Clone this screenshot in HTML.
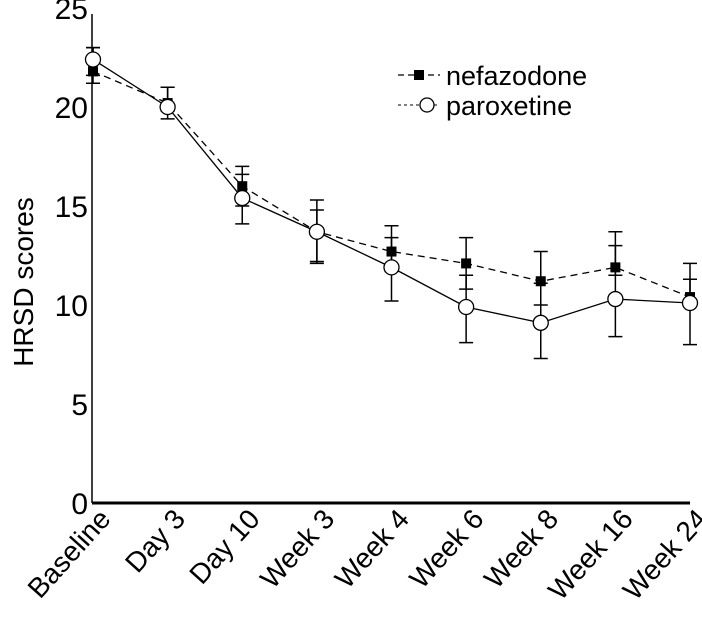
<!DOCTYPE html>
<html><head><meta charset="utf-8"><style>
html,body{margin:0;padding:0;background:#fff;}
svg{display:block;font-family:"Liberation Sans",Arial,sans-serif;}
</style></head><body>
<svg id="chart" width="702" height="617" viewBox="0 0 702 617"></svg>
<script>
const categories=["Baseline","Day 3","Day 10","Week 3","Week 4","Week 6","Week 8","Week 16","Week 24"];
const yTicks=[0,5,10,15,20,25];
const nefValues=[21.8,20.2,16.0,13.7,12.7,12.1,11.2,11.9,10.4];
const nefHi=[23.0,21.0,17.0,14.8,14.0,13.4,12.7,13.7,12.1];
const nefLo=[21.2,19.8,15.0,12.1,11.7,10.8,10.0,11.5,10.0];
const parValues=[22.4,20.0,15.4,13.7,11.9,9.9,9.1,10.3,10.1];
const parHi=[23.0,21.0,16.6,15.3,13.4,11.5,11.1,13.0,11.3];
const parLo=[21.6,19.4,14.1,12.2,10.2,8.1,7.3,8.4,8.0];

const svg=document.getElementById('chart');
const NS='http://www.w3.org/2000/svg';
const x0=93,x1=690,y0=503,y25=8;
function xs(i){return x0+(x1-x0)*i/(categories.length-1);}
function ys(v){return y0-(y0-y25)*v/25;}
function mk(t,a,p){const e=document.createElementNS(NS,t);for(const k in a)e.setAttribute(k,a[k]);(p||svg).appendChild(e);return e;}

let e;
e=mk('line',{x1:92,y1:14,x2:92,y2:503,stroke:'#000','stroke-width':1.5});


e=mk('line',{x1:92,y1:503,x2:690,y2:503,stroke:'#000','stroke-width':3});



yTicks.forEach(v=>{
  const t=mk('text',{x:88,y:ys(v)+11,'text-anchor':'end','font-size':30,fill:'#000'});
  t.textContent=v;
  
  
});
e=mk('text',{x:0,y:0,'text-anchor':'middle','font-size':28,transform:'translate(33,282) rotate(-90)'});
e.textContent='HRSD scores';



categories.forEach((c,i)=>{
  const t=mk('text',{x:0,y:0,'text-anchor':'end','font-size':28,transform:`translate(${xs(i)+19},${520}) rotate(-48)`});
  t.textContent=c;
  
  
});

function series(vals,hi,lo,dash,name,filled){
  const g=mk('g',{});
  
  
  vals.forEach((v,i)=>{
    const x=xs(i);
    const b=mk('path',{d:`M${x},${ys(hi[i])}V${ys(lo[i])}M${x-7},${ys(hi[i])}H${x+7}M${x-7},${ys(lo[i])}H${x+7}`,stroke:'#000','stroke-width':1.5,fill:'none'},g);
    
    
  });
  const l=mk('polyline',{points:vals.map((v,i)=>xs(i)+','+ys(v)).join(' '),fill:'none',stroke:'#000','stroke-width':1.3,'stroke-dasharray':dash},g);
  
  
  vals.forEach((v,i)=>{
    let m;
    if(filled) m=mk('rect',{x:xs(i)-5,y:ys(v)-5,width:10,height:10,fill:'#000'},g);
    else m=mk('circle',{cx:xs(i),cy:ys(v),r:7.5,fill:'#fff',stroke:'#000','stroke-width':1.3},g);
    
    
  });
}
series(nefValues,nefHi,nefLo,'7,5','nefazodone',true);
series(parValues,parHi,parLo,'none','paroxetine',false);

const lg=mk('g',{});


e=mk('line',{x1:398,y1:75,x2:440,y2:75,stroke:'#000','stroke-width':1.3,'stroke-dasharray':'6,4'},lg);
e=mk('rect',{x:414,y:70,width:10,height:10,fill:'#000'},lg);


e=mk('text',{x:446,y:85,'font-size':27},lg);
e.textContent='nefazodone';


e=mk('line',{x1:398,y1:105,x2:440,y2:105,stroke:'#000','stroke-width':1,'stroke-dasharray':'3,3'},lg);
e=mk('circle',{cx:427,cy:105,r:7,fill:'#fff',stroke:'#000','stroke-width':1.3},lg);


e=mk('text',{x:446,y:115,'font-size':27},lg);
e.textContent='paroxetine';


</script>
</body></html>
